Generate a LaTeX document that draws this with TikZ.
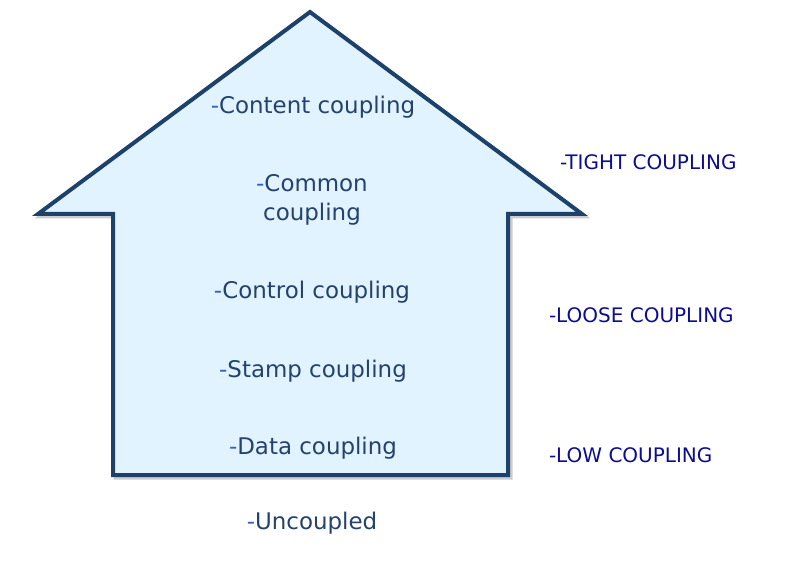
\documentclass[tikz,border=0pt]{standalone}
\usepackage{fontspec}
\setmainfont{DejaVu Sans}
\newlength{\du}
\setlength{\du}{0.75pt}
\definecolor{housefill}{rgb}{0.878431, 0.952941, 0.996078}
\definecolor{houseline}{rgb}{0.109804, 0.254902, 0.415686}
\definecolor{levelcolor}{rgb}{0.141176, 0.258824, 0.427451}
\definecolor{dashcolor}{rgb}{0.200000, 0.360000, 0.800000}
\definecolor{sidecolor}{rgb}{0.050000, 0.050000, 0.560000}
\tikzset{
  level/.style={font=\fontsize{17.2}{20}\selectfont, text=levelcolor, align=center, inner sep=0pt},
  side/.style={font=\fontsize{15}{18}\selectfont, text=sidecolor, anchor=west, inner sep=0pt}
}
\newcommand{\dsh}{{\color{dashcolor}-}}

\begin{document}
\begin{tikzpicture}
\pgftransformxscale{1.000000}
\pgftransformyscale{-1.000000}
\useasboundingbox (0\du,0\du) rectangle (786\du,577\du);
% shadow of the house
\definecolor{dialinecolor}{rgb}{0.600000, 0.600000, 0.600000}
\pgfsetstrokecolor{dialinecolor}
\pgfsetlinewidth{4.000000\du}
\pgfsetmiterjoin
\draw[opacity=0.5] (312.5\du,14.5\du)--(584.5\du,216.5\du)--(510.5\du,216.5\du)--(510.5\du,477.5\du)--(115.5\du,477.5\du)--(115.5\du,216.5\du)--(40.5\du,216.5\du)--cycle;
% the house
\coordinate (roof) at (310\du,12\du);
\coordinate (eastwing) at (582\du,214\du);
\coordinate (eastwall) at (508\du,214\du);
\coordinate (eastfloor) at (508\du,475\du);
\coordinate (westfloor) at (113\du,475\du);
\coordinate (westwall) at (113\du,214\du);
\coordinate (westwing) at (38\du,214\du);
\pgfsetlinewidth{4.000000\du}
\pgfsetdash{}{0pt}
\pgfsetmiterjoin
\draw[draw=houseline, fill=housefill] (roof)--(eastwing)--(eastwall)--(eastfloor)--(westfloor)--(westwall)--(westwing)--cycle;
% levels
\node[level] (content) at (313\du,107\du){\dsh Content coupling};
\node[level] (common) at (312\du,200\du){\dsh Common\\[2pt]coupling};
\node[level] (control) at (312\du,292\du){\dsh Control coupling};
\node[level] (stamp) at (313\du,371\du){\dsh Stamp coupling};
\node[level] (data) at (313\du,448\du){\dsh Data coupling};
\node[level] (uncoupled) at (312\du,523\du){\dsh Uncoupled};
% side labels
\node[side] (tight) at (558\du,162\du){-TIGHT COUPLING};
\node[side] (loose) at (547\du,315\du){-LOOSE COUPLING};
\node[side] (low) at (547\du,455\du){-LOW COUPLING};
\end{tikzpicture}
\end{document}
